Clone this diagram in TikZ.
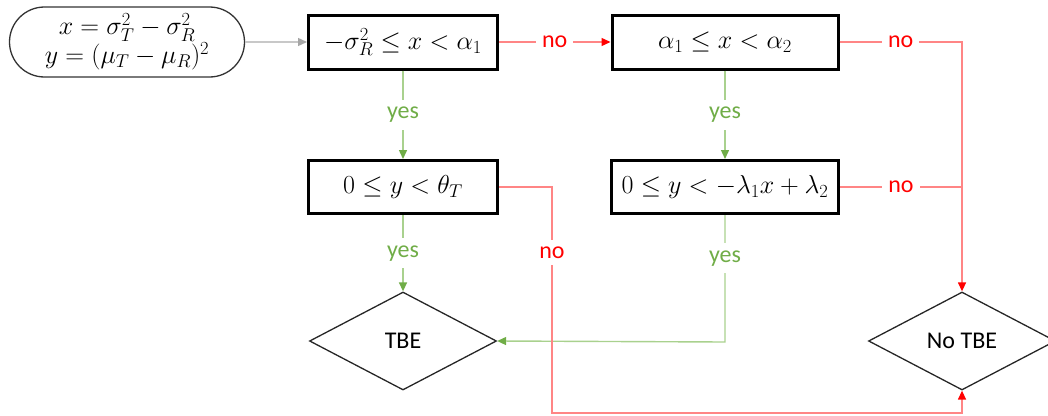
\RequirePackage{fix-cm}
\documentclass[tikz,border=0pt]{standalone}
\usepackage{fontspec}
\setmainfont{Carlito}
\usetikzlibrary{arrows.meta,shapes.geometric,shapes.misc}
\definecolor{lred}{HTML}{FF8585}
\definecolor{tred}{HTML}{FF0000}
\definecolor{lgreen}{HTML}{A9D18E}
\definecolor{tgreen}{HTML}{70AD47}
\definecolor{lgray}{HTML}{C8C8C8}
\definecolor{dgray}{HTML}{A6A6A6}
\DeclareMathSizes{26}{26}{18.5}{13}
\tikzset{
  mathfont/.style={font=\fontsize{26}{29}\selectfont},
  cond/.style={draw=black, line width=3pt, rectangle, minimum height=54pt, inner sep=0pt, mathfont},
  startbox/.style={draw=black!80, line width=1.3pt, rounded rectangle, minimum width=235pt, minimum height=70pt, inner sep=0pt, align=center, mathfont},
  endbox/.style={draw=black!85, line width=1.3pt, diamond, minimum width=187pt, minimum height=98pt, inner sep=0pt, font=\fontsize{24}{28}\selectfont},
  lbl/.style={fill=white, inner xsep=6pt, inner ysep=7pt, font=\fontsize{24}{28}\selectfont},
  nolbl/.style={lbl, text=tred},
  yeslbl/.style={lbl, text=tgreen},
  redline/.style={draw=lred, line width=1.4pt},
  greenline/.style={draw=lgreen, line width=1.4pt},
  redarr/.style={redline, -{Triangle[length=9pt,width=8pt,color=tred]}},
  greenarr/.style={greenline, -{Triangle[length=9pt,width=8pt,color=tgreen]}},
  grayarr/.style={draw=lgray, line width=1.4pt, -{Triangle[length=9pt,width=8pt,color=dgray]}},
}
\begin{document}
\begin{tikzpicture}[x=1pt,y=-1pt]
\useasboundingbox (0,0) rectangle (1048,415);
\clip (0,0) rectangle (1048,415);
\node[startbox] (start) at (127,42) {$x=\sigma_T^2-\sigma_R^2$\\$y=(\mu_T-\mu_R)^2$};
\node[cond, minimum width=189pt] (b1) at (403,42) {$-\sigma_R^2\le x<\alpha_1$};
\node[cond, minimum width=226pt] (b2) at (725,42) {$\alpha_1\le x<\alpha_2$};
\node[cond, minimum width=189pt, minimum height=53pt] (b3) at (403,187) {$0\le y<\theta_T$};
\node[cond, minimum width=227pt, minimum height=53pt] (b4) at (725,187) {$0\le y<-\lambda_1x+\lambda_2$};
\node[endbox] (tbe) at (403,341) {TBE};
\node[endbox] (notbe) at (962,341) {No TBE};
\coordinate (c2) at (962,42);
\coordinate (c4) at (962,187);
\coordinate (g4) at (725,342);
\coordinate (r3a) at (552,187);
\coordinate (r3b) at (552,413);
\coordinate (r3c) at (962,413);
% connectors
\draw[grayarr] (start.east) -- (b1.west);
\draw[redarr] (b1.east) -- node[nolbl]{no} (b2.west);
\draw[redarr] (b2.east) -- node[nolbl]{no} (c2) -- (notbe.north);
\draw[redline] (b4.east) -- node[nolbl]{no} (c4);
\draw[greenarr] (b1.south) -- node[yeslbl]{yes} (b3.north);
\draw[greenarr] (b2.south) -- node[yeslbl]{yes} (b4.north);
\draw[greenarr] (b3.south) -- node[yeslbl]{yes} (tbe.north);
\draw[greenarr] (b4.south) -- node[yeslbl, pos=0.34]{yes} (g4) -- (tbe.east);
\draw[redarr] (b3.east) -- (r3a) -- node[nolbl, pos=0.29]{no} (r3b) -- (r3c) -- (notbe.south);
\end{tikzpicture}
\end{document}
